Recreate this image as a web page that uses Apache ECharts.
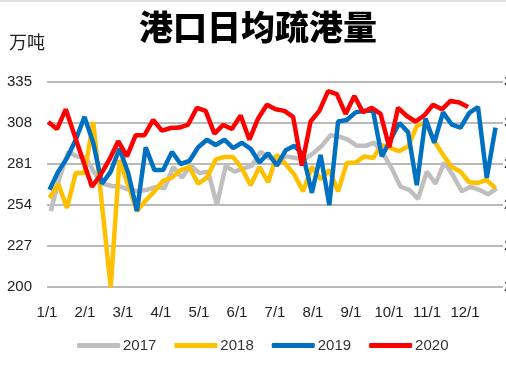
<!DOCTYPE html>
<html><head><meta charset="utf-8">
<script src="https://cdn.jsdelivr.net/npm/echarts@6/dist/echarts.min.js"></script>
<style>html,body{margin:0;padding:0;background:#fff;}#c{width:506px;height:369px;}</style>
</head><body><div id="c"></div>
<script>
var titleText = '港口日均疏港量';
var unitText = '万吨';
var seriesNames = ['2017', '2018', '2019', '2020'];
var monthLabels = ['1/1','2/1','3/1','4/1','5/1','6/1','7/1','8/1','9/1','10/1','11/1','12/1'];
var yTicks = [200, 227, 254, 281, 308, 335];
// weekly values, first week start day-of-year per series
var startDay = [3, 2, 2, 1];
var v2017 = [250,272,289,286,285,275,268,266.5,266,264,263,264,266,265,279,272,280,275,276,254,279.7,276,278,280,289,285,285,286,285,284,288,293,300,299,297,293,293,295,288,278,266,264,258,276,268,282,273.5,263,266,264,261,265];
var v2018 = [258.6,268,252,275,275,308.7,254,200,283.6,267,250,257,263,270,272,277,279,268,272,284,285.6,285.6,278,267,279,269,287,281,274,263,279,271,277,263,281.7,282,286,285,293.5,291.5,289.5,292.5,306,308.5,296,287,279,276,269,268.5,270.5,265];
var v2019 = [264,276,285,297,312,295,268,276,291,275,250,292,277,277,289,281,283,292,297,293.5,297,291.5,295,291,282,288,280,290,293,287,262,287,254,309,310,315,316,316,286,297,308,302,267,311,295,315,307,305,314.6,318.5,271.8,305];
var v2020 = [308.7,304,317,300,283,266,274,284,296,286,300,300,310,303,304.7,305,307,318,316,301,306.7,304,313,297,311,320,317,316,312,280,309,316,329,327,314,325.8,315,318,314,292,318,312.6,309,313,320,317,322.5,321.5,318.5];
var colors = ['#BFBFBF', '#FFC000', '#0070C0', '#FF0000'];
var allVals = [v2017, v2018, v2019, v2020];

var monthInterval = 365 / 12;
function toPairs(arr, s) { return arr.map(function (v, i) { return [s + 7 * i, v]; }); }

var chart = echarts.init(document.getElementById('c'), null, {renderer: 'canvas'});
var font = '"Liberation Sans", Arial, sans-serif';
var yAxisBase = {
  type: 'value', min: yTicks[0], max: yTicks[yTicks.length - 1], interval: yTicks[1] - yTicks[0],
  axisLine: {show: false}, axisTick: {show: false}
};
chart.setOption({
  animation: false,
  backgroundColor: '#fff',
  title: {
    text: titleText, left: 134, top: 5,
    textStyle: {fontFamily: '"Noto Sans CJK SC", sans-serif', fontWeight: 900, fontSize: 34, color: '#000'}
  },
  graphic: [
    {type: 'rect', left: 0, top: 0, shape: {width: 506, height: 2}, style: {fill: '#e2e2e2'}},
    {type: 'text', left: 9, top: 33, style: {text: unitText, font: '18px "Noto Sans CJK SC", sans-serif', fill: '#222'}}
  ],
  grid: {left: 47, right: 3, top: 82, bottom: 82, containLabel: false, outerBoundsMode: 'none'},
  legend: {
    data: seriesNames, left: 72, top: 333,
    icon: 'roundRect', itemWidth: 43, itemHeight: 5, itemGap: 18,
    textStyle: {fontFamily: font, fontSize: 15, color: '#333', padding: [0, 0, 0, -2]}
  },
  xAxis: {
    type: 'value', min: 0, max: 365, interval: monthInterval,
    axisLine: {show: false}, axisTick: {show: false}, splitLine: {show: false},
    axisLabel: {
      margin: 18, fontFamily: font, fontSize: 15, color: '#222', showMaxLabel: false,
      formatter: function (v) { var k = Math.round(v / monthInterval); return k < 12 ? monthLabels[k] : ''; }
    }
  },
  yAxis: [
    Object.assign({}, yAxisBase, {
      splitLine: {show: true, lineStyle: {color: '#a3a3a3', width: 1.5}},
      axisLabel: {margin: 15, fontFamily: font, fontSize: 15, color: '#222'}
    }),
    Object.assign({}, yAxisBase, {
      position: 'right', splitLine: {show: false},
      axisLabel: {margin: 1, fontFamily: font, fontSize: 15, color: '#222'}
    })
  ],
  series: allVals.map(function (arr, k) {
    return {
      name: seriesNames[k], type: 'line', data: toPairs(arr, startDay[k]),
      showSymbol: false, symbol: 'none', smooth: false,
      lineStyle: {width: 4.5, color: colors[k]}, itemStyle: {color: colors[k]}, z: 2 + k
    };
  })
});
</script></body></html>
